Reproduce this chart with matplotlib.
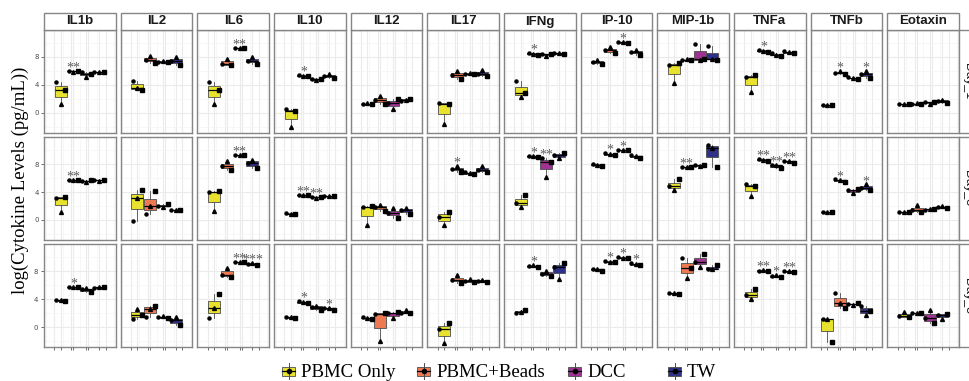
import numpy as np
import matplotlib.pyplot as plt
from matplotlib.patches import Rectangle
from matplotlib.lines import Line2D

cytokines = ["IL1b", "IL2", "IL6", "IL10", "IL12", "IL17",
             "IFNg", "IP-10", "MIP-1b", "TNFa", "TNFb", "Eotaxin"]
days = ["Day_1", "Day_3", "Day_5"]
groups = ["PBMC Only", "PBMC+Beads", "DCC", "TW"]

# log levels, [day][group][replicate]
il1b = [[[4.4, 1.2, 3.3], [5.95, 5.9, 6.0], [5.8, 5.15, 5.6], [5.9, 5.85, 5.8]],
        [[3.2, 1.2, 3.35], [5.7, 5.75, 5.7], [5.6, 5.5, 5.7], [5.7, 5.65, 5.75]],
        [[3.95, 3.9, 3.7], [5.7, 5.75, 5.75], [5.4, 5.6, 5.05], [5.6, 5.75, 5.8]]]
il2 = [[[4.6, 3.6, 3.2], [7.6, 8.1, 7.1], [7.3, 7.4, 7.2], [7.4, 8.0, 6.9]],
       [[-0.1, 3.2, 4.3], [0.9, 2.0, 4.1], [2.0, 1.9, 2.3], [1.45, 1.5, 1.4]],
       [[1.15, 2.65, 1.8], [1.5, 2.6, 3.05], [1.4, 1.6, 1.3], [1.0, 1.45, 0.25]]]
il6 = [[[4.4, 1.3, 3.2], [7.0, 7.7, 6.8], [9.3, 9.3, 9.25], [7.4, 8.0, 7.0]],
       [[3.95, 1.3, 4.15], [7.7, 8.4, 7.15], [9.35, 9.35, 9.3], [8.15, 8.65, 7.4]],
       [[1.25, 2.75, 4.7], [7.5, 8.5, 7.25], [9.35, 9.3, 9.35], [9.05, 9.2, 8.95]]]
il10 = [[[0.55, -2.05, 0.25], [5.4, 5.3, 5.2], [4.9, 4.7, 4.8], [5.2, 5.6, 5.0]],
        [[1.0, 0.9, 0.85], [3.6, 3.55, 3.6], [3.3, 3.2, 3.3], [3.4, 3.5, 3.5]],
        [[1.45, 1.4, 1.35], [3.7, 3.6, 3.4], [2.9, 3.1, 2.4], [2.8, 2.7, 2.45]]]
il12 = [[[1.25, 1.35, 1.3], [1.9, 2.4, 1.3], [1.4, 0.5, 2.0], [1.7, 1.9, 2.0]],
        [[1.8, -0.7, 2.0], [1.9, 2.2, 1.3], [1.0, 1.7, 0.35], [1.4, 1.75, 0.8]],
        [[1.4, 1.3, 1.2], [1.9, -2.0, 2.05], [2.0, 1.25, 2.2], [2.1, 2.4, 2.0]]]
il17 = [[[1.45, -1.6, 1.25], [5.4, 6.0, 4.9], [5.6, 5.7, 5.5], [5.6, 6.1, 5.2]],
        [[0.45, -0.7, 1.2], [7.3, 7.7, 6.9], [6.8, 6.7, 6.55], [7.1, 7.7, 6.8]],
        [[-0.3, -2.3, 0.65], [6.8, 7.4, 6.35], [6.6, 6.95, 6.45], [6.6, 6.8, 6.45]]]
ifng = [[[4.6, 2.2, 2.8], [8.6, 8.4, 8.3], [8.35, 8.1, 8.4], [8.5, 8.6, 8.45]],
        [[2.5, 1.9, 3.6], [9.2, 9.1, 9.0], [8.9, 6.2, 8.3], [9.3, 8.85, 9.55]],
        [[2.1, 2.2, 2.5], [8.7, 8.9, 8.6], [7.6, 8.1, 7.35], [8.6, 6.95, 9.2]]]
ip10 = [[[7.2, 7.5, 7.0], [9.0, 9.4, 8.5], [10.1, 10.1, 10.0], [8.7, 9.0, 8.3]],
        [[8.0, 7.9, 7.7], [9.6, 9.4, 9.3], [10.0, 10.0, 9.95], [9.3, 9.1, 8.9]],
        [[8.3, 8.4, 8.1], [9.5, 9.4, 9.3], [10.0, 9.95, 9.9], [9.2, 9.0, 8.9]]]
mip1b = [[[6.8, 4.2, 7.1], [7.6, 7.65, 7.55], [9.9, 7.6, 7.65], [9.5, 7.7, 7.6]],
         [[4.8, 4.3, 5.9], [7.6, 7.6, 7.65], [7.8, 7.7, 7.9], [10.8, 10.3, 7.6]],
         [[4.9, 4.85, 4.7], [9.9, 7.0, 8.5], [9.4, 8.6, 10.5], [8.4, 8.3, 8.9]]]
tnfa = [[[5.1, 2.95, 5.4], [8.95, 8.9, 8.7], [8.6, 8.3, 8.15], [8.8, 8.7, 8.5]],
        [[5.2, 3.45, 4.8], [8.7, 8.65, 8.5], [7.8, 7.9, 7.5], [8.4, 8.5, 8.2]],
        [[4.6, 4.0, 5.5], [8.0, 8.2, 8.05], [7.3, 7.45, 7.2], [8.0, 8.1, 7.85]]]
tnfb = [[[1.05, 1.1, 1.1], [5.75, 6.05, 5.6], [5.1, 5.0, 4.9], [5.5, 5.95, 5.0]],
        [[1.2, 1.2, 1.15], [5.8, 5.75, 5.5], [4.3, 3.85, 4.4], [4.6, 5.1, 4.35]],
        [[1.2, 1.15, -2.1], [4.95, 3.5, 2.7], [3.3, 3.2, 3.4], [3.1, 1.7, 2.3]]]
eotaxin = [[[1.3, 1.3, 1.25], [1.3, 1.35, 1.3], [1.5, 1.2, 1.6], [1.7, 1.9, 1.4]],
           [[1.2, 1.2, 1.2], [1.4, 2.1, 1.2], [1.5, 1.55, 1.6], [1.8, 1.95, 1.7]],
           [[1.6, 2.2, 1.4], [2.0, 2.1, 2.05], [1.3, 2.4, 0.55], [1.8, 1.15, 1.9]]]

# significance marks: (day index, cytokine, group index, label)
sig_marks = [
    (0, "IL1b", 1, "**"), (0, "IL6", 2, "**"), (0, "IL10", 1, "*"),
    (0, "IFNg", 1, "*"), (0, "IP-10", 2, "*"), (0, "TNFa", 1, "*"),
    (0, "TNFb", 1, "*"), (0, "TNFb", 3, "*"),
    (1, "IL1b", 1, "**"), (1, "IL6", 2, "**"), (1, "IL10", 1, "**"),
    (1, "IL10", 2, "**"), (1, "IL17", 1, "*"), (1, "IFNg", 1, "*"),
    (1, "IFNg", 2, "**"), (1, "IP-10", 1, "*"), (1, "IP-10", 2, "*"),
    (1, "MIP-1b", 1, "**"), (1, "TNFa", 1, "**"), (1, "TNFa", 2, "**"),
    (1, "TNFa", 3, "**"), (1, "TNFb", 1, "*"), (1, "TNFb", 3, "*"),
    (2, "IL1b", 1, "*"), (2, "IL6", 2, "**"), (2, "IL6", 3, "***"),
    (2, "IL10", 1, "*"), (2, "IL10", 3, "*"), (2, "IFNg", 1, "*"),
    (2, "IP-10", 1, "*"), (2, "IP-10", 2, "*"), (2, "IP-10", 3, "*"),
    (2, "TNFa", 1, "**"), (2, "TNFa", 2, "*"), (2, "TNFa", 3, "**"),
]

data = [il1b, il2, il6, il10, il12, il17, ifng, ip10, mip1b, tnfa, tnfb, eotaxin]
colors = ["#E8E22E", "#EE7A52", "#A03293", "#2F3189"]
markers = ["o", "^", "s"]
msizes = [2.2, 2.8, 2.4]
offsets = [-0.27, 0.0, 0.27]
centers = 1.375 + 0.75 * np.arange(4)

W, H = 969, 381
fig = plt.figure(figsize=(W / 100, H / 100), dpi=100)

left0, pw, pgap = 44, 71.76, 4.9
top0, ph, rgap = 30, 102.7, 4.5
strip_h = 17
border = "#858585"
edge = "#4D4D4D"


def fx(px):
    return px / W


def fy(px):
    return 1 - px / H


axes = {}
for r in range(len(days)):
    for c in range(len(cytokines)):
        x0 = left0 + c * (pw + pgap)
        y0 = top0 + r * (ph + rgap)
        ax = fig.add_axes([fx(x0), fy(y0 + ph), pw / W, ph / H])
        axes[(r, c)] = ax
        ax.set_xlim(0.4, 4.6)
        ax.set_ylim(-2.85, 11.85)
        ax.set_xticks([1, 2, 3, 4])
        ax.set_xticks([0.5, 1.5, 2.5, 3.5, 4.5], minor=True)
        ax.set_yticks([0, 4, 8])
        ax.set_yticks([-2, 2, 6, 10], minor=True)
        ax.grid(which="major", color="#EBEBEB", lw=0.8)
        ax.grid(which="minor", color="#F4F4F4", lw=0.5)
        ax.set_axisbelow(True)
        for s in ax.spines.values():
            s.set_color(border)
            s.set_linewidth(1.0)

        vals = data[c][r]
        bp = ax.boxplot(vals, positions=centers, widths=0.7, patch_artist=True,
                        showfliers=False, showcaps=False, whis=1.5,
                        boxprops=dict(edgecolor=edge, linewidth=0.6),
                        whiskerprops=dict(color=edge, linewidth=0.6),
                        medianprops=dict(color="black", linewidth=0.9))
        for patch, col in zip(bp["boxes"], colors):
            patch.set_facecolor(col)
        for g in range(4):
            for k in range(3):
                ax.plot(centers[g] + offsets[k], vals[g][k], ls="",
                        marker=markers[k], ms=msizes[k], color="black", zorder=4)

        ax.tick_params(which="both", left=False, bottom=False,
                       labelleft=False, labelbottom=False)
        if c == 0:
            ax.tick_params(which="major", left=True, labelleft=True, length=2,
                           width=0.5, color="#333333", labelsize=5,
                           labelcolor="#4D4D4D", pad=1.5)
        if r == len(days) - 1:
            ax.tick_params(which="major", bottom=True, length=2.5, width=0.5,
                           color="#333333")

# significance asterisks above the highest replicate
for r, name, g, label in sig_marks:
    c = cytokines.index(name)
    top = max(data[c][r][g])
    axes[(r, c)].annotate(label, (centers[g], top), xytext=(0, -0.5),
                          textcoords="offset points", ha="center", va="baseline",
                          fontsize=10, color="#5E5E5E", family="Liberation Serif",
                          zorder=5)

# top strips
for c, name in enumerate(cytokines):
    x0 = left0 + c * (pw + pgap)
    fig.add_artist(Rectangle((fx(x0), fy(top0)), pw / W, strip_h / H,
                             transform=fig.transFigure, facecolor="white",
                             edgecolor=border, lw=1.0))
    fig.text(fx(x0 + pw / 2), fy(top0 - strip_h / 2), name,
             ha="center", va="center", fontsize=9.5, fontweight="bold",
             family="Liberation Sans", color="#1A1A1A")

# right strips, running past the figure edge
sx = left0 + len(cytokines) * (pw + pgap) - pgap
for r, day in enumerate(days):
    y0 = top0 + r * (ph + rgap)
    fig.add_artist(Rectangle((fx(sx), fy(y0 + ph)), strip_h / W, ph / H,
                             transform=fig.transFigure, facecolor="white",
                             edgecolor=border, lw=1.0))
    fig.text(fx(sx + strip_h / 2), fy(y0 + ph / 2), day,
             ha="center", va="center", rotation=-90, fontsize=9,
             family="Liberation Sans", color="#1A1A1A")

fig.text(fx(20), fy(180), "log(Cytokine Levels (pg/mL))", rotation=90,
         ha="center", va="center", fontsize=13.5, family="Liberation Serif")

# legend: box key with whisker and point, then the label
cy = 371
key_left = [282, 417, 568, 668]
for kx, col, lab in zip(key_left, colors, groups):
    cx = kx + 6.5
    fig.add_artist(Line2D([fx(cx), fx(cx)], [fy(cy - 8), fy(cy + 8)],
                          transform=fig.transFigure, color=edge, lw=0.7))
    fig.add_artist(Rectangle((fx(kx), fy(cy + 4.5)), 13 / W, 9 / H,
                             transform=fig.transFigure, facecolor=col,
                             edgecolor=edge, lw=0.6))
    fig.add_artist(Line2D([fx(kx), fx(kx + 13)], [fy(cy), fy(cy)],
                          transform=fig.transFigure, color="black", lw=0.9))
    fig.add_artist(Line2D([fx(cx)], [fy(cy)], transform=fig.transFigure,
                          ls="", marker="o", ms=3, color="black"))
    fig.text(fx(kx + 19), fy(377), lab, ha="left", va="baseline",
             fontsize=13.5, family="Liberation Serif")

fig.savefig("out.png", dpi=100)
